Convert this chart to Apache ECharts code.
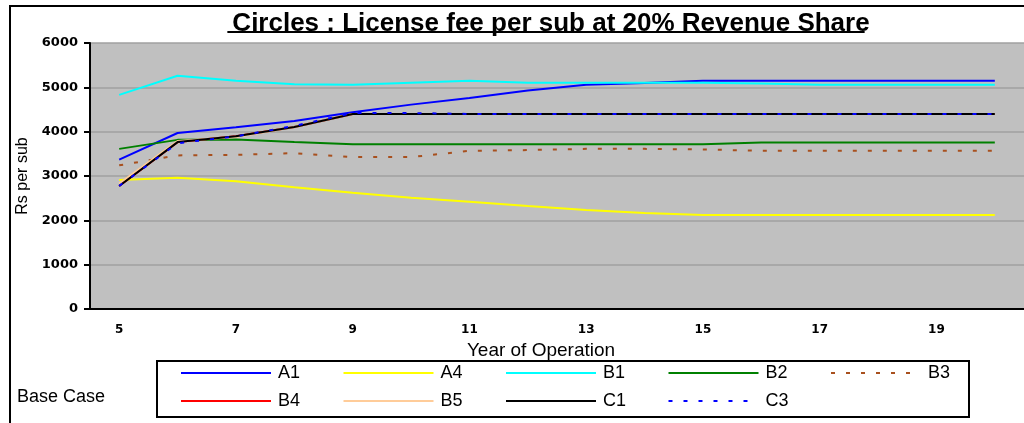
<!DOCTYPE html>
<html>
<head>
<meta charset="utf-8">
<title>Circles : License fee per sub at 20% Revenue Share</title>
<script src="https://cdn.jsdelivr.net/npm/echarts@6/dist/echarts.min.js"></script>
<style>
  html, body { margin: 0; padding: 0; background: #ffffff; }
  #chart { width: 1024px; height: 423px; }
</style>
</head>
<body>
<div id="chart"></div>
<script>
// Year of operation (category axis)
const years = ['5', '6', '7', '8', '9', '10', '11', '12', '13', '14', '15', '16', '17', '18', '19', '20'];

// License fee per subscriber (Rs) for each circle
const A1 = [3370, 3970, 4100, 4240, 4440, 4610, 4760, 4930, 5060, 5100, 5150, 5150, 5150, 5150, 5150, 5150];
const A4 = [2911, 2963, 2880, 2746, 2620, 2508, 2418, 2321, 2235, 2165, 2120, 2120, 2120, 2120, 2120, 2120];
const B1 = [4830, 5260, 5150, 5070, 5060, 5105, 5150, 5105, 5105, 5105, 5105, 5085, 5060, 5060, 5060, 5060];
const B2 = [3612, 3815, 3825, 3765, 3717, 3715, 3715, 3715, 3715, 3715, 3715, 3755, 3755, 3755, 3755, 3755];
const B3 = [3240, 3465, 3478, 3515, 3426, 3426, 3568, 3585, 3612, 3612, 3600, 3568, 3568, 3568, 3568, 3568];
const B4 = [2776, 3765, 3895, 4105, 4400, 4400, 4400, 4400, 4400, 4400, 4400, 4400, 4400, 4400, 4400, 4400];
const B5 = [2830, 3790, 3880, 4105, 4400, 4400, 4400, 4400, 4400, 4400, 4400, 4400, 4400, 4400, 4400, 4400];
const C1 = [2776, 3765, 3895, 4105, 4400, 4400, 4400, 4400, 4400, 4400, 4400, 4400, 4400, 4400, 4400, 4400];
const C3 = [2776, 3740, 3895, 4130, 4420, 4420, 4400, 4400, 4400, 4400, 4400, 4400, 4400, 4400, 4400, 4400];

// Value axis ticks
const yMin = 0, yMax = 6000, yStep = 1000;

const titleText = 'Circles : License fee per sub at 20% Revenue Share';
const titleFont = 'bold 26px "Liberation Sans"';
const titleCenterX = 546;

const dotted = [4, 11];
const seriesDefs = [
  { name: 'A1', data: A1, color: '#0000ff', type: 'solid' },
  { name: 'A4', data: A4, color: '#ffff00', type: 'solid' },
  { name: 'B1', data: B1, color: '#00ffff', type: 'solid' },
  { name: 'B2', data: B2, color: '#008000', type: 'solid' },
  { name: 'B3', data: B3, color: '#a8501e', type: dotted },
  { name: 'B4', data: B4, color: '#ff0000', type: 'solid' },
  { name: 'B5', data: B5, color: '#ffcc99', type: 'solid' },
  { name: 'C1', data: C1, color: '#000000', type: 'solid' },
  { name: 'C3', data: C3, color: '#0000ff', type: dotted }
];

// Legend columns (two rows inside the box)
const legendColumns = [['A1', 'B4'], ['A4', 'B5'], ['B1', 'C1'], ['B2', 'C3'], ['B3']];
const legendLeft = [180, 342.5, 505, 667.5, 830];

const measure = document.createElement('canvas').getContext('2d');
measure.font = titleFont;
const titleWidth = measure.measureText(titleText).width;

const chart = echarts.init(document.getElementById('chart'), null, { renderer: 'canvas' });

const option = {
  backgroundColor: '#ffffff',
  animation: false,
  title: {
    text: titleText,
    left: titleCenterX,
    textAlign: 'center',
    top: 6,
    textStyle: { fontFamily: 'Liberation Sans', fontWeight: 'bold', fontSize: 26, color: '#000' }
  },
  grid: {
    left: 90, top: 43, right: -2, bottom: 114,
    show: true, backgroundColor: '#c0c0c0', borderWidth: 0
  },
  legend: legendColumns.map((col, i) => ({
    data: col,
    orient: 'vertical',
    left: legendLeft[i],
    top: 364,
    padding: 0,
    itemWidth: 90,
    itemHeight: 14,
    itemGap: 10,
    selectedMode: false,
    itemStyle: { opacity: 0, borderWidth: 0 },
    textStyle: { fontFamily: 'Liberation Sans', fontSize: 18, lineHeight: 18, color: '#000', padding: [0, 0, 0, 2] }
  })),
  xAxis: {
    type: 'category',
    data: years,
    boundaryGap: true,
    axisLine: { lineStyle: { color: '#000', width: 2 } },
    axisTick: { interval: 0, length: 5, lineStyle: { color: '#000', width: 2 } },
    axisLabel: {
      interval: 1, margin: 15,
      fontFamily: 'DejaVu Sans', fontWeight: 'bold', fontSize: 12, color: '#000'
    },
    splitLine: { show: false },
    name: 'Year of Operation',
    nameLocation: 'middle',
    nameGap: 25,
    nameTextStyle: { fontFamily: 'Liberation Sans', fontSize: 19, color: '#000', padding: [0, 32, 0, 0] }
  },
  yAxis: {
    type: 'value',
    min: yMin, max: yMax, interval: yStep,
    axisLine: { show: true, lineStyle: { color: '#000', width: 2 } },
    axisTick: { show: true, length: 6, lineStyle: { color: '#000', width: 2 } },
    axisLabel: {
      margin: 12,
      formatter: v => String(v),
      fontFamily: 'DejaVu Sans', fontWeight: 'bold', fontSize: 13, color: '#000'
    },
    splitLine: { lineStyle: { color: '#a0a0a0', width: 1.5 } },
    name: 'Rs per sub',
    nameLocation: 'middle',
    nameRotate: 90,
    nameGap: 53,
    nameTextStyle: { fontFamily: 'Liberation Sans', fontSize: 16, color: '#000' }
  },
  graphic: [
    {
      type: 'rect', z: -10, silent: true,
      shape: { x: 10, y: 6, width: 1100, height: 500 },
      style: { fill: null, stroke: '#000', lineWidth: 2 }
    },
    {
      type: 'rect', z: 1, silent: true,
      shape: { x: 157, y: 361, width: 812, height: 56 },
      style: { fill: '#ffffff', stroke: '#000', lineWidth: 2 }
    },
    {
      type: 'line', z: 5, silent: true,
      shape: { x1: titleCenterX - titleWidth / 2, y1: 32, x2: titleCenterX + titleWidth / 2, y2: 32 },
      style: { stroke: '#000', lineWidth: 2 }
    },
    {
      type: 'text', z: 5, silent: true,
      left: 17, top: 388,
      style: { text: 'Base Case', fontFamily: 'Liberation Sans', fontSize: 18, fill: '#000' }
    }
  ],
  series: seriesDefs.map(s => ({
    name: s.name,
    type: 'line',
    data: s.data,
    symbol: 'none',
    showSymbol: false,
    smooth: false,
    itemStyle: { color: s.color },
    lineStyle: { color: s.color, width: 2, type: s.type }
  }))
};

chart.setOption(option);
</script>
</body>
</html>
